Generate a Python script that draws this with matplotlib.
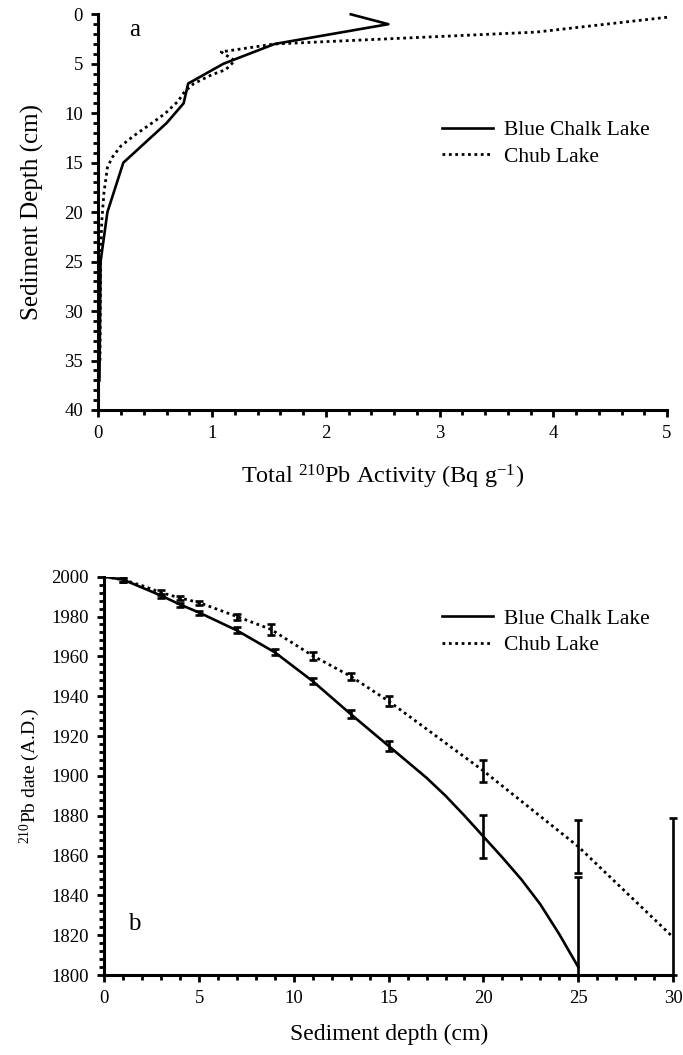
import matplotlib
matplotlib.use("Agg")
from matplotlib import pyplot as plt
from matplotlib.ticker import MultipleLocator

plt.rcParams['font.family'] = ['Liberation Serif', 'DejaVu Serif']
plt.rcParams['mathtext.fontset'] = 'custom'
plt.rcParams['mathtext.rm'] = 'Liberation Serif'
plt.rcParams['mathtext.it'] = 'Liberation Serif:italic'

# panel a: total 210Pb activity profiles
blue_act = [2.22, 2.55, 1.55, 1.10, 0.79, 0.75, 0.60, 0.22, 0.08, 0.02, 0.01]
blue_act_depth = [0, 1, 3, 5, 7, 9, 11, 15, 20, 25, 37]
chub_act = [5.0, 3.85, 1.55, 1.08, 1.2, 1.12, 1.0, 0.84, 0.76, 0.70, 0.59, 0.52,
            0.31, 0.20, 0.12, 0.08, 0.05, 0.03, 0.02, 0.015]
chub_act_depth = [0.3, 1.8, 3.0, 3.8, 4.7, 5.6, 6.1, 7.0, 7.8, 8.8, 10.0, 10.6,
                  12.3, 13.3, 14.5, 15.5, 18, 21, 25, 35]

# panel b: 210Pb dates
blue_line_depth = [0, 1, 2, 3, 4, 5, 7, 9, 11, 13, 15, 16, 17, 18, 19, 20, 21, 22, 23, 24, 25]
blue_line_year = [2000, 1998.5, 1994.5, 1990.5, 1986, 1982, 1973, 1962, 1947.5, 1931,
                  1915, 1907, 1899, 1890, 1880, 1869.5, 1859, 1848, 1835.5, 1820.5, 1804]
chub_line_depth = [0, 1, 2, 3, 4, 5, 7, 8.8, 11, 13, 15, 20, 25, 30]
chub_line_year = [2000, 1998.5, 1995.5, 1992, 1989.3, 1987, 1980, 1973.5, 1960.3,
                  1950, 1937.5, 1902.5, 1864.5, 1819]

blue_pt_depth = [1, 3, 4, 5, 7, 9, 11, 13, 15, 20, 25]
blue_pt_year = [1998.5, 1990.5, 1986, 1982, 1973, 1962, 1947.5, 1931, 1915, 1869.5, 1804]
blue_err = [1, 1, 1, 1, 1.5, 1.5, 1.5, 2, 2.5, 11, 45]
chub_pt_depth = [1, 3, 4, 5, 7, 8.8, 11, 13, 15, 20, 25, 30]
chub_pt_year = [1998.5, 1992, 1989.3, 1987, 1980, 1973.5, 1960.3, 1950, 1937.5,
                1902.5, 1864.5, 1819]
chub_err = [1, 1.2, 1, 1, 1.5, 3, 2, 1.8, 2.5, 5.5, 13.5, 60]

W, H = 683, 1055
fig = plt.figure(figsize=(W / 100, H / 100), dpi=100)


def style_axes(ax):
    for s in ['top', 'right']:
        ax.spines[s].set_visible(False)
    for s in ['left', 'bottom']:
        ax.spines[s].set_linewidth(2.2)
    ax.tick_params(which='major', direction='out', length=5, width=2, labelsize=13.5, pad=6)
    ax.tick_params(which='minor', direction='out', length=3.5, width=2)


# ---- panel a ----
ax1 = fig.add_axes([98.3 / W, 1 - 410 / H, (667 - 98.3) / W, (410 - 14.3) / H])
ax1.plot(blue_act, blue_act_depth, color='black', lw=1.9, clip_on=False,
         label='Blue Chalk Lake')
ax1.plot(chub_act, chub_act_depth, color='black', lw=2, linestyle=(0, (1, 1.3)),
         clip_on=False, label='Chub Lake')
ax1.set_xlim(0, 5)
ax1.set_ylim(40, 0)
ax1.xaxis.set_major_locator(MultipleLocator(1))
ax1.xaxis.set_minor_locator(MultipleLocator(0.2))
ax1.yaxis.set_major_locator(MultipleLocator(5))
ax1.yaxis.set_minor_locator(MultipleLocator(1))
style_axes(ax1)
ax1.set_xlabel('Total $^{\\mathrm{210}}$Pb Activity (Bq g$^{\\mathrm{-1}}$)', fontsize=17.5, labelpad=15)
ax1.set_ylabel('Sediment Depth (cm)', fontsize=18)
ax1.yaxis.set_label_coords(-0.095, 0.5)
ax1.text(0.063, 0.96, 'a', transform=ax1.transAxes, fontsize=18, va='center', ha='center')
ax1.legend(loc='upper left', bbox_to_anchor=(0.604, 0.732), frameon=False,
           fontsize=15.5, handlelength=2.4, handletextpad=0.5, borderpad=0,
           borderaxespad=0, labelspacing=0.3)

# ---- panel b ----
ax2 = fig.add_axes([104.3 / W, 1 - 975 / H, (673 - 104.3) / W, (975 - 576.7) / H])
ax2.plot(blue_line_depth, blue_line_year, color='black', lw=1.9, label='Blue Chalk Lake')
ax2.plot(chub_line_depth, chub_line_year, color='black', lw=2, linestyle=(0, (1, 1.3)),
         label='Chub Lake')
for d, y, e in [(blue_pt_depth, blue_pt_year, blue_err), (chub_pt_depth, chub_pt_year, chub_err)]:
    lower = [min(ei, yi - 1800) for yi, ei in zip(y, e)]
    ax2.errorbar(d, y, yerr=[lower, e], fmt='none', ecolor='black', elinewidth=1.9,
                 capsize=3, capthick=1.9, clip_on=False)
ax2.set_xlim(0, 30)
ax2.set_ylim(1800, 2000)
ax2.xaxis.set_major_locator(MultipleLocator(5))
ax2.xaxis.set_minor_locator(MultipleLocator(1))
ax2.yaxis.set_major_locator(MultipleLocator(20))
ax2.yaxis.set_minor_locator(MultipleLocator(4))
style_axes(ax2)
ax2.set_xlabel('Sediment depth (cm)', fontsize=17, labelpad=12)
ax2.set_ylabel('$^{\\mathrm{210}}$Pb date (A.D.)', fontsize=14)
ax2.yaxis.set_label_coords(-0.11, 0.5)
ax2.text(0.052, 0.127, 'b', transform=ax2.transAxes, fontsize=18, va='center', ha='center')
ax2.legend(loc='upper left', bbox_to_anchor=(0.593, 0.92), frameon=False,
           fontsize=15.5, handlelength=2.4, handletextpad=0.5, borderpad=0,
           borderaxespad=0, labelspacing=0.3)

fig.savefig('out.png', dpi=100)
